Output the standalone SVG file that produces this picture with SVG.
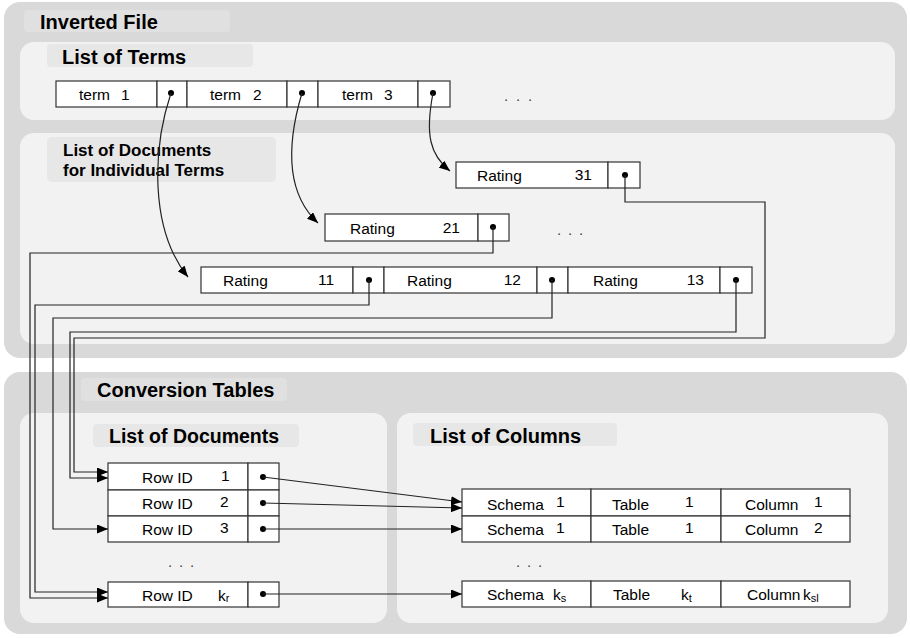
<svg xmlns="http://www.w3.org/2000/svg" width="910" height="638" viewBox="0 0 910 638">
<defs>
<marker id="arr" markerUnits="userSpaceOnUse" markerWidth="11" markerHeight="9" refX="11" refY="4.5" orient="auto" viewBox="0 0 11 9"><path d="M0,0 L11,4.5 L0,9 z" fill="#000"/></marker>
</defs>
<style>
.outer{fill:#d9d9d9}
.inner{fill:#f2f2f2}
.lbl1{fill:#e0e0e0}
.lbl2{fill:#e7e7e7}
.title{font-family:"Liberation Sans",Arial,sans-serif;font-weight:bold;font-size:20px;fill:#000}
.t{font-family:"Liberation Sans",Arial,sans-serif;font-size:15.5px;fill:#000}
.sub{font-size:11px}
.cell{fill:#fff;stroke:#333;stroke-width:1.2}
.dot{fill:#000}
.conn{fill:none;stroke:#222;stroke-width:1.2}
.arrow{marker-end:url(#arr)}
.dots{font-family:"Liberation Sans",Arial,sans-serif;font-size:15px;fill:#444}
</style>

<g id="panel-inverted-file">
<rect class="outer" x="4" y="2" width="903" height="356" rx="16"/>
<rect class="lbl1" x="24" y="10" width="206" height="22" rx="4"/>
<text class="title" x="40" y="29">Inverted File</text>
</g>
<g id="panel-list-of-terms">
<rect class="inner" x="20" y="42" width="875" height="78" rx="14"/>
<rect class="lbl2" x="47" y="44" width="206" height="23" rx="4"/>
<text class="title" x="62" y="64">List of Terms</text>
</g>
<g id="panel-docs-for-terms">
<rect class="inner" x="20" y="133" width="875" height="211" rx="14"/>
<rect class="lbl2" x="47" y="137" width="229" height="45" rx="5"/>
<text class="title" style="font-size:17px" x="63" y="156">List of Documents</text>
<text class="title" style="font-size:17px" x="63" y="176">for Individual Terms</text>
</g>
<g id="panel-conversion-tables">
<rect class="outer" x="4" y="372" width="903" height="262" rx="16"/>
<rect class="lbl1" x="81" y="378" width="206" height="23" rx="4"/>
<text class="title" x="97" y="397">Conversion Tables</text>
</g>
<g id="panel-list-of-documents">
<rect class="inner" x="20" y="413" width="367" height="210" rx="14"/>
<rect class="lbl2" x="93" y="424" width="206" height="23" rx="4"/>
<text class="title" style="font-size:19.5px" x="109" y="443">List of Documents</text>
</g>
<g id="panel-list-of-columns">
<rect class="inner" x="397" y="413" width="491" height="210" rx="14"/>
<rect class="lbl2" x="413" y="423" width="204" height="23" rx="4"/>
<text class="title" x="430" y="443">List of Columns</text>
</g>

<g id="term1">
<rect class="cell" x="56" y="81" width="101" height="26"/><rect class="cell" x="157" y="81" width="30" height="26"/>
<text class="t" y="99.5"><tspan x="79">term</tspan><tspan x="121">1</tspan></text>
<circle class="dot" cx="171" cy="93" r="3"/>
</g>
<g id="term2">
<rect class="cell" x="187" y="81" width="100" height="26"/><rect class="cell" x="287" y="81" width="31" height="26"/>
<text class="t" y="99.5"><tspan x="210">term</tspan><tspan x="253">2</tspan></text>
<circle class="dot" cx="302" cy="93" r="3"/>
</g>
<g id="term3">
<rect class="cell" x="318" y="81" width="100" height="26"/><rect class="cell" x="418" y="81" width="32" height="26"/>
<text class="t" y="99.5"><tspan x="342">term</tspan><tspan x="384">3</tspan></text>
<circle class="dot" cx="433" cy="93" r="3"/>
</g>
<text class="dots" x="504 516 528" y="101">...</text>

<g id="rating31">
<rect class="cell" x="456" y="162" width="152" height="26"/><rect class="cell" x="608" y="162" width="32" height="26"/>
<text class="t" x="477" y="181">Rating</text><text class="t" x="592" y="180" text-anchor="end">31</text>
<circle class="dot" cx="625" cy="175" r="3"/>
</g>
<g id="rating21">
<rect class="cell" x="325" y="214" width="153" height="27"/><rect class="cell" x="478" y="214" width="31" height="27"/>
<text class="t" x="350" y="234">Rating</text><text class="t" x="460" y="233" text-anchor="end">21</text>
<circle class="dot" cx="493" cy="227" r="3"/>
</g>
<text class="dots" x="557 568 579" y="235">...</text>
<g id="rating11">
<rect class="cell" x="201" y="267" width="152" height="26"/><rect class="cell" x="353" y="267" width="31" height="26"/>
<text class="t" x="223" y="286">Rating</text><text class="t" x="334" y="285" text-anchor="end">11</text>
<circle class="dot" cx="369" cy="280" r="3"/>
</g>
<g id="rating12">
<rect class="cell" x="384" y="267" width="153" height="26"/><rect class="cell" x="537" y="267" width="31" height="26"/>
<text class="t" x="407" y="286">Rating</text><text class="t" x="521" y="285" text-anchor="end">12</text>
<circle class="dot" cx="552" cy="280" r="3"/>
</g>
<g id="rating13">
<rect class="cell" x="568" y="267" width="152" height="26"/><rect class="cell" x="720" y="267" width="32" height="26"/>
<text class="t" x="593" y="286">Rating</text><text class="t" x="704" y="285" text-anchor="end">13</text>
<circle class="dot" cx="736" cy="280" r="3"/>
</g>

<g id="row1">
<rect class="cell" x="108" y="463" width="140" height="27"/><rect class="cell" x="248" y="463" width="31" height="27"/>
<text class="t" x="142" y="483">Row ID</text><text class="t" x="221" y="481">1</text>
<circle class="dot" cx="263" cy="477" r="3"/>
</g>
<g id="row2">
<rect class="cell" x="108" y="490" width="140" height="26"/><rect class="cell" x="248" y="490" width="31" height="26"/>
<text class="t" x="142" y="509">Row ID</text><text class="t" x="220" y="507">2</text>
<circle class="dot" cx="263" cy="503" r="3"/>
</g>
<g id="row3">
<rect class="cell" x="108" y="516" width="140" height="26"/><rect class="cell" x="248" y="516" width="31" height="26"/>
<text class="t" x="142" y="535">Row ID</text><text class="t" x="220" y="533">3</text>
<circle class="dot" cx="263" cy="529" r="3"/>
</g>
<text class="dots" x="168 179 190" y="567">...</text>
<g id="rowkr">
<rect class="cell" x="108" y="582" width="140" height="25"/><rect class="cell" x="248" y="582" width="31" height="25"/>
<text class="t" x="142" y="601">Row ID</text><text class="t" x="218" y="601">k<tspan class="sub" dy="1">r</tspan></text>
<circle class="dot" cx="263" cy="594" r="3"/>
</g>

<g id="col1">
<rect class="cell" x="462" y="489" width="129" height="27"/><rect class="cell" x="591" y="489" width="130" height="27"/><rect class="cell" x="721" y="489" width="129" height="27"/>
<text class="t" x="487" y="510">Schema</text><text class="t" x="556" y="507">1</text>
<text class="t" x="612" y="510">Table</text><text class="t" x="685" y="507">1</text>
<text class="t" x="745" y="510">Column</text><text class="t" x="814" y="507">1</text>
</g>
<g id="col2">
<rect class="cell" x="462" y="516" width="129" height="26"/><rect class="cell" x="591" y="516" width="130" height="26"/><rect class="cell" x="721" y="516" width="129" height="26"/>
<text class="t" x="487" y="535">Schema</text><text class="t" x="556" y="533">1</text>
<text class="t" x="612" y="535">Table</text><text class="t" x="685" y="533">1</text>
<text class="t" x="745" y="535">Column</text><text class="t" x="814" y="533">2</text>
</g>
<text class="dots" x="516 527 538" y="567">...</text>
<g id="colk">
<rect class="cell" x="462" y="581" width="129" height="26"/><rect class="cell" x="591" y="581" width="130" height="26"/><rect class="cell" x="721" y="581" width="129" height="26"/>
<text class="t" x="487" y="600">Schema</text><text class="t" x="553" y="600">k<tspan class="sub" dy="2">s</tspan></text>
<text class="t" x="613" y="600">Table</text><text class="t" x="681" y="600">k<tspan class="sub" dy="2">t</tspan></text>
<text class="t" x="747" y="600">Column</text><text class="t" x="803" y="600">k<tspan class="sub" dy="2">sl</tspan></text>
</g>

<g id="connectors">
<path class="conn arrow" d="M171,93 C152,150 150,230 188,277"/>
<path class="conn arrow" d="M302,93 C285,150 288,195 318,223"/>
<path class="conn arrow" d="M433,93 C425,135 430,155 450,171"/>
<path class="conn arrow" d="M625,175 V202 H765 V338 H74 V472 H108"/>
<path class="conn arrow" d="M736,280 V332 H70 V478 H108"/>
<path class="conn arrow" d="M552,280 V318 H53 V529 H108"/>
<path class="conn arrow" d="M369,280 V305 H35 V592 H108"/>
<path class="conn arrow" d="M493,227 V253 H30 V598 H108"/>
<path class="conn arrow" d="M263,477 L462,502"/>
<path class="conn arrow" d="M263,503 L462,508"/>
<path class="conn arrow" d="M263,529 L462,529"/>
<path class="conn arrow" d="M263,594 L462,594"/>
</g>
</svg>
